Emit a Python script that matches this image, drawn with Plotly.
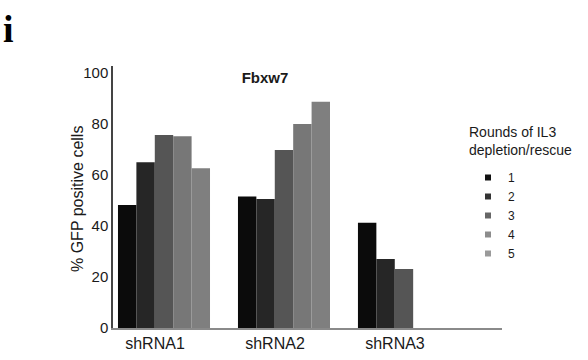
import plotly.graph_objects as go

categories = ["shRNA1", "shRNA2", "shRNA3"]
rounds = ["1", "2", "3", "4", "5"]
round1 = [48.2, 51.5, 41.3]
round2 = [65.0, 50.6, 27.0]
round3 = [75.7, 69.8, 23.1]
round4 = [75.2, 80.0, None]
round5 = [62.6, 88.7, None]
series = [round1, round2, round3, round4, round5]
colors = ["#0b0b0b", "#262626", "#555555", "#777777", "#7f7f7f"]
legend_colors = ["#111111", "#333333", "#666666", "#8c8c8c", "#9a9a9a"]
y_ticks = [0, 20, 40, 60, 80, 100]
legend_title = "Rounds of IL3<br>depletion/rescue"
y_title = "% GFP positive cells"

fig = go.Figure()
for name, vals, col in zip(rounds, series, colors):
    fig.add_trace(go.Bar(x=categories, y=vals, name=name, marker=dict(color=col, line=dict(width=0)),
                         showlegend=False))
for name, col in zip(rounds, legend_colors):
    fig.add_trace(go.Scatter(x=[None], y=[None], mode="markers", name=name,
                             marker=dict(symbol="square", size=6, color=col)))

font = "Liberation Sans, Arial, sans-serif"
fig.update_layout(
    width=588, height=360,
    margin=dict(l=113, r=86, t=66, b=32),
    paper_bgcolor="white", plot_bgcolor="white",
    barmode="group", bargap=0.233, bargroupgap=0,
    font=dict(family=font, size=15, color="#1a1a1a"),
    title=dict(text="<b>Fbxw7</b>", x=(265 - 113) / 389, xref="paper", xanchor="center",
               y=1 - 78 / 360, yref="container", yanchor="middle",
               font=dict(family=font, size=15, color="#1a1a1a")),
    xaxis=dict(range=[-0.425, 2.817], showline=True, linecolor="#8a8a8a", linewidth=1.5,
               ticks="", showgrid=False, zeroline=False, ticklabelshift=-9, ticklabelstandoff=0,
               tickfont=dict(size=16), automargin=False),
    yaxis=dict(range=[0, 102.7], tickvals=y_ticks, showline=True, linecolor="#444444", linewidth=1.5,
               ticks="", showgrid=False, zeroline=False, tickfont=dict(size=15), automargin=False),
    legend=dict(x=(468 - 113) / 389, xanchor="left", y=(328 - 163) / 262, yanchor="top",
                bgcolor="rgba(0,0,0,0)", font=dict(size=12), itemwidth=30),
    annotations=[
        dict(text="<b>i</b>", xref="paper", yref="paper", x=(1 - 113) / 389, y=(328 - 29) / 262,
             xanchor="left", yanchor="middle", showarrow=False,
             font=dict(family="Liberation Serif, Times New Roman, serif", size=38, color="black")),
        dict(text=legend_title, xref="paper", yref="paper", x=(467 - 113) / 389, y=(328 - 122) / 262,
             xanchor="left", yanchor="top", align="left", showarrow=False,
             font=dict(family=font, size=14, color="#1a1a1a")),
        dict(text=y_title, xref="paper", yref="paper", x=(77 - 113) / 389, y=(328 - 199) / 262,
             xanchor="center", yanchor="middle", textangle=-90, showarrow=False,
             font=dict(family=font, size=16, color="#1a1a1a")),
    ],
)

fig.write_html("out.html")
